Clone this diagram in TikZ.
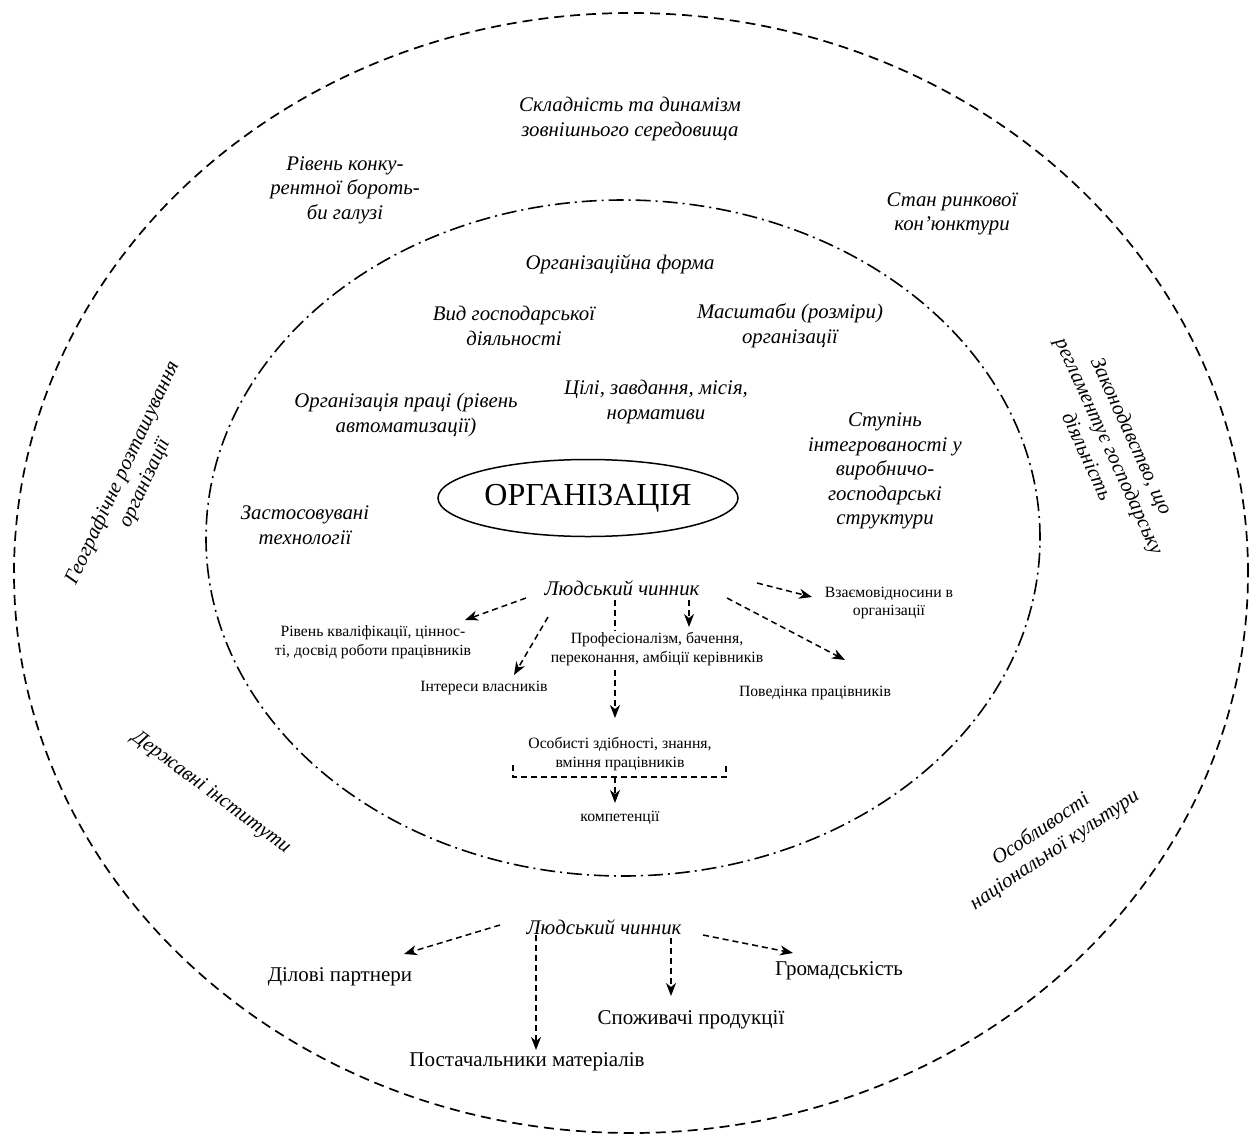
\documentclass[tikz,border=0pt]{standalone}
\usepackage{fontspec}
\setmainfont{Liberation Serif}
\usetikzlibrary{arrows.meta,shapes.geometric,backgrounds}
\begin{document}
\begin{tikzpicture}[x=1pt,y=-1pt,
  lab/.style={font=\fontsize{20.8}{24.5}\selectfont\itshape, align=center, inner sep=1pt},
  small/.style={font=\fontsize{15.7}{18.5}\selectfont, align=center, inner sep=1pt},
  big/.style={font=\fontsize{21}{24}\selectfont, align=center, inner sep=1pt},
  arr/.style={draw, line width=1.5pt, dash pattern=on 6pt off 4pt, -{Stealth[length=13pt,width=10pt,inset=4pt]}},
  dsh/.style={draw, line width=1.5pt, dash pattern=on 6pt off 4pt},
  outerring/.style={draw, line width=1.7pt, dash pattern=on 10pt off 6pt},
  innerring/.style={draw, line width=1.6pt, dash pattern=on 15pt off 5pt on 2pt off 5pt}
]
\useasboundingbox (0,0) rectangle (1256,1136);

% rings
\path[outerring] (631,573) ellipse [x radius=617pt, y radius=560pt];
\path[innerring] (623,538) ellipse [x radius=417pt, y radius=338pt];

% outer factors
\node[lab] (complex) at (630,119) {Складність та динамізм\\зовнішнього середовища};
\node[lab] (compet) at (345,190) {Рівень конку-\\рентної бороть-\\би галузі};
\node[lab] (market) at (952,214) {Стан ринкової\\кон’юнктури};
\node[lab, rotate=-65.5] (law) at (1110,446) {Законодавство, що\\регламентує господарську\\діяльність};
\node[lab, rotate=65] (geo) at (134,478) {Географічне розташування\\організації};
\node[lab, rotate=-36.5] (state) at (211,793) {Державні інститути};
\node[lab, rotate=34] (culture) at (1048,840) {Особливості\\національної культури};

% inner factors
\node[lab] (form) at (620,264) {Організаційна форма};
\node[lab] (kind) at (514,326) {Вид господарської\\діяльності};
\node[lab] (scale) at (790,326) {Масштаби (розміри)\\організації};
\node[lab] (labour) at (406,415) {Організація праці (рівень\\автоматизації)};
\node[lab] (goals) at (656,402) {Цілі, завдання, місія,\\нормативи};
\node[lab] (integr) at (885,471) {Ступінь\\інтегрованості у\\виробничо-\\господарські\\структури};
\node[lab] (tech) at (305,525) {Застосовувані\\технології};
\node[draw, ellipse, line width=1.5pt, minimum width=300pt, minimum height=77pt,
      font=\fontsize{32}{34}\selectfont, inner sep=0pt] (org) at (588,498) {ОРГАНІЗАЦІЯ};

% human factor inside
\node[lab] (hf) at (622,588) {Людський чинник};
\node[small] (rel) at (889,603) {Взаємовідносини в\\організації};
\node[small] (qual) at (373,642) {Рівень кваліфікації, ціннос-\\ті, досвід роботи працівників};
\node[small, fill=white] (prof) at (657,649) {Професіоналізм, бачення,\\переконання, амбіції керівників};
\node[small] (own) at (484,688) {Інтереси власників};
\node[small] (behav) at (815,693) {Поведінка працівників};
\node[small] (pers) at (620,754) {Особисті здібності, знання,\\вміння працівників};
\node[small] (comp) at (620,818) {компетенції};

\draw[arr] ([shift={(-96,10)}]hf.center) -- ([shift={(92,-22)}]qual.center);
\draw[arr] ([shift={(-74,29)}]hf.center) -- ([shift={(30,-13)}]own.center);
\begin{scope}[on background layer]
\draw[arr] ([shift={(-7,12)}]hf.center) -- ([shift={(-5,-36)}]pers.center);
\end{scope}
\draw[arr] ([shift={(67,12)}]hf.center) -- ([shift={(32,-22)}]prof.center);
\draw[arr] ([shift={(105,10)}]hf.center) -- ([shift={(30,-33)}]behav.center);
\draw[arr] ([shift={(135,-5)}]hf.center) -- ([shift={(-77,-6)}]rel.center);

\coordinate (bl) at ([shift={(-107,11)}]pers.center);
\coordinate (br) at ([shift={(106,11)}]pers.center);
\coordinate (bmid) at ([shift={(-5,23)}]pers.center);
\draw[dsh] (bl) -- ([shift={(-107,23)}]pers.center) -- ([shift={(106,23)}]pers.center) -- (br);
\draw[arr] (bmid) -- ([shift={(-5,-15)}]comp.center);

% human factor outside
\node[lab] (hf2) at (604,927) {Людський чинник};
\node[big] (partn) at (340,977) {Ділові партнери};
\node[big] (public) at (839,971) {Громадськість};
\node[big] (cons) at (691,1020) {Споживачі продукції};
\node[big] (suppl) at (527,1062) {Постачальники матеріалів};

\draw[arr] ([shift={(-104,-2)}]hf2.center) -- ([shift={(64,-23)}]partn.center);
\draw[arr] ([shift={(-68,8)}]hf2.center) -- ([shift={(9,-12)}]suppl.center);
\draw[arr] ([shift={(67,11)}]hf2.center) -- ([shift={(-20,-24)}]cons.center);
\draw[arr] ([shift={(99,8)}]hf2.center) -- ([shift={(-46,-18)}]public.center);
\end{tikzpicture}
\end{document}
